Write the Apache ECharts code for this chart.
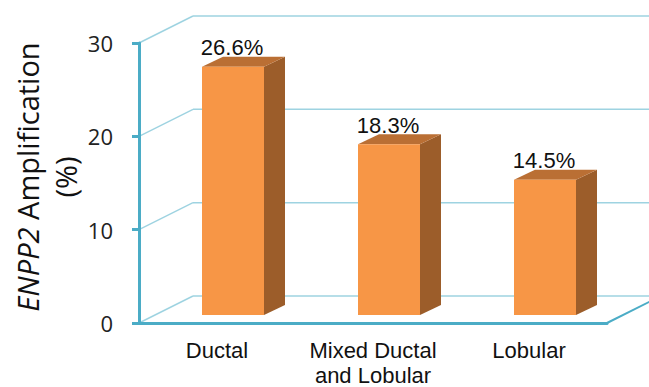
<!DOCTYPE html>
<html>
<head>
<meta charset="utf-8">
<style>
  html, body { margin: 0; padding: 0; background: #ffffff; overflow: hidden; }
  #chart { width: 649px; height: 387px; }
</style>
<script src="https://cdn.jsdelivr.net/npm/echarts@6/dist/echarts.min.js"></script>
</head>
<body>
<div id="chart"></div>
<script>
// Subtypes and their amplification rates (%)
const categories = ['Ductal', 'Mixed Ductal\nand Lobular', 'Lobular'];
const amplification = [26.6, 18.3, 14.5];
const yTicks = [0, 10, 20, 30];

// Pseudo-3D geometry (pixels)
const WALL_DX = 54, WALL_DY = -27;     // depth of the floor / back wall
const BAR_W = 62;                      // front face width
const BAR_SHIFT_X = 16, BAR_SHIFT_Y = -8; // bar front face inset from the front plane
const BAR_DX = 21, BAR_DY = -10;       // bar depth

const TEAL = '#4BACC6';
const LIGHT = '#9ED3E1';

const chart = echarts.init(document.getElementById('chart'), null, { renderer: 'svg', width: 649, height: 387 });

chart.setOption({
  animation: false,
  grid: { left: 139, width: 468, top: 43, height: 280, outerBoundsMode: 'none' },
  xAxis: {
    type: 'category', data: categories, boundaryGap: true,
    axisLine: { lineStyle: { color: TEAL, width: 3 } },
    axisTick: { length: 6, lineStyle: { color: TEAL, width: 3 } },
    axisLabel: { interval: 0, margin: 15, color: '#111', fontSize: 22, lineHeight: 25,
                 fontFamily: 'Liberation Sans, Arial, sans-serif' },
    z: 5
  },
  yAxis: {
    type: 'value', min: 0, max: 30, interval: 10,
    axisLine: { show: true, lineStyle: { color: TEAL, width: 3 } },
    axisTick: { show: true, length: 7, lineStyle: { color: TEAL, width: 3 } },
    axisLabel: { margin: 26, color: '#222', fontSize: 22, fontFamily: 'Open Sans, sans-serif' },
    splitLine: { show: false },
    z: 5
  },
  graphic: [
    {
      type: 'text', x: 46, y: 177, rotation: Math.PI / 2,
      style: {
        text: '{i|ENPP2} Amplification\n(%)',
        align: 'center', verticalAlign: 'middle',
        fontFamily: 'Open Sans, sans-serif', fontSize: 29, lineHeight: 38, fill: '#111',
        rich: { i: { fontStyle: 'italic', fontFamily: 'Open Sans, sans-serif', fontSize: 29, lineHeight: 38 } }
      }
    }
  ],
  series: [
    {
      // Back-wall gridlines, floor/wall connectors and the right floor edge
      type: 'custom', z: 1, clip: false,
      data: yTicks.map(function (v) { return [0, v]; }),
      renderItem: function (params, api) {
        const cs = params.coordSys;
        const v = api.value(1);
        const y = api.coord([0, v])[1];
        const bx = cs.x + WALL_DX, by = y + WALL_DY;
        const children = [
          { type: 'line',
            shape: { x1: cs.x, y1: y, x2: bx, y2: by },
            style: { stroke: LIGHT, lineWidth: 1.5 } },
          { type: 'line',
            shape: { x1: bx, y1: by, x2: bx + cs.width, y2: by },
            style: { stroke: LIGHT, lineWidth: 1.5 } }
        ];
        if (v === 0) {
          children.push({
            type: 'line',
            shape: { x1: cs.x + cs.width, y1: y, x2: cs.x + cs.width + WALL_DX, y2: y + WALL_DY },
            style: { stroke: TEAL, lineWidth: 2 }
          });
        }
        return { type: 'group', children: children };
      }
    },
    {
      // 3D bars
      type: 'custom', z: 3,
      data: amplification.map(function (v, i) { return [i, v]; }),
      renderItem: function (params, api) {
        const idx = api.value(0), val = api.value(1);
        const top = api.coord([idx, val]);
        const base = api.coord([idx, 0]);
        const cx = top[0] + BAR_SHIFT_X;
        const x0 = cx - BAR_W / 2, x1 = cx + BAR_W / 2;
        const yT = top[1] + BAR_SHIFT_Y, yB = base[1] + BAR_SHIFT_Y;
        return {
          type: 'group',
          children: [
            { type: 'polygon',
              shape: { points: [[x1, yT], [x1 + BAR_DX, yT + BAR_DY], [x1 + BAR_DX, yB + BAR_DY], [x1, yB]] },
              style: { fill: '#9C5D2A' } },
            { type: 'polygon',
              shape: { points: [[x0, yT], [x0 + BAR_DX, yT + BAR_DY], [x1 + BAR_DX, yT + BAR_DY], [x1, yT]] },
              style: { fill: '#BA6F34' } },
            { type: 'rect',
              shape: { x: x0, y: yT, width: BAR_W, height: yB - yT },
              style: { fill: '#F79646' } },
            { type: 'text', x: cx - 1, y: yT + BAR_DY + 2,
              style: { text: val.toFixed(1) + '%', align: 'center', verticalAlign: 'bottom',
                       fontSize: 22, fill: '#111', fontFamily: 'Liberation Sans, Arial, sans-serif' } }
          ]
        };
      }
    }
  ]
});
</script>
</body>
</html>
